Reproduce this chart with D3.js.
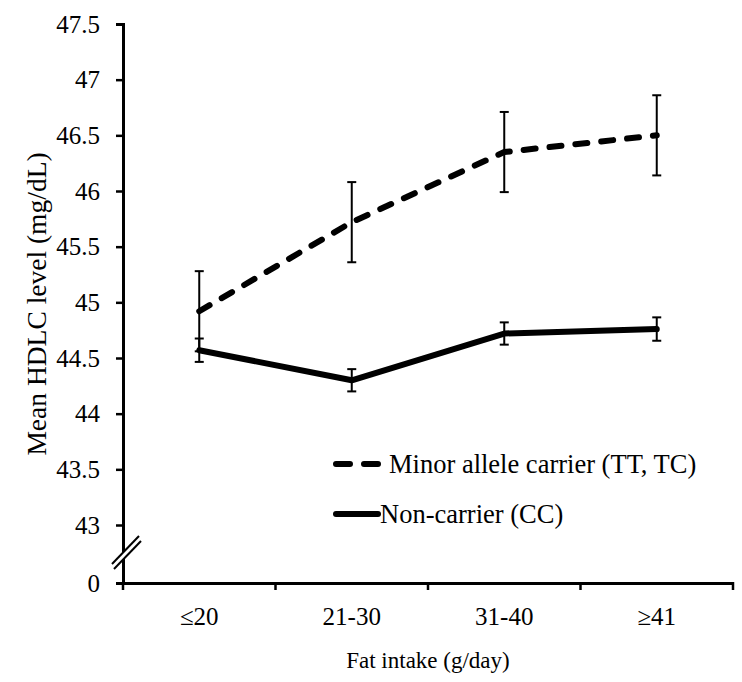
<!DOCTYPE html>
<html>
<head>
<meta charset="utf-8">
<script src="https://cdn.jsdelivr.net/npm/d3@7"></script>
<style>
  html, body { margin: 0; padding: 0; background: #fff; }
  svg text { font-family: "Liberation Serif", "Times New Roman", serif; fill: #000; }
</style>
</head>
<body>
<svg id="chart" width="742" height="682"></svg>
<script>
// fat intake groups and the two genotype series (mean +/- error)
const categories = ['\u226420', '21-30', '31-40', '\u226541'];
const carrierMean = [44.92, 45.72, 46.35, 46.50];
const carrierErr = [0.36, 0.36, 0.36, 0.36];
const nonCarrierMean = [44.57, 44.30, 44.72, 44.76];
const nonCarrierErr = [0.105, 0.10, 0.10, 0.105];
const yTicks = [0, 43, 43.5, 44, 44.5, 45, 45.5, 46, 46.5, 47, 47.5];

const series = [
  { name: 'Minor allele carrier (TT, TC)', mean: carrierMean, err: carrierErr, dash: '12,14' },
  { name: 'Non-carrier (CC)', mean: nonCarrierMean, err: nonCarrierErr, dash: null }
];

const svg = d3.select('#chart');

// broken axis: 0 sits just under 43
const x = d3.scaleBand().domain(categories).range([123, 733]).paddingInner(0).paddingOuter(0);
const y = d3.scaleLinear().domain([0, 43, 47.5]).range([583, 525, 24]);
const cx = (c) => x(c) + x.bandwidth() / 2;

// y axis
const yAxis = svg.append('g')
  .attr('transform', 'translate(123,0)')
  .call(d3.axisLeft(y).tickValues(yTicks).tickFormat(d3.format('~g')).tickSize(7).tickPadding(16));
yAxis.select('.domain').attr('stroke-width', 3);
yAxis.selectAll('.tick line').attr('stroke-width', 2.5);
yAxis.selectAll('.tick text').attr('font-size', 25).attr('font-family', '"Liberation Serif", serif');

// break marks on the y axis
const brk = svg.append('g');
brk.append('polygon')
  .attr('points', '112,563 140,535 142,541 114,569')
  .attr('fill', '#fff');
[[0, 0], [2, 5]].forEach(([dx, dy]) => {
  brk.append('line')
    .attr('x1', 112 + dx).attr('y1', 564 + dy)
    .attr('x2', 139 + dx).attr('y2', 536 + dy)
    .attr('stroke', '#000').attr('stroke-width', 2);
});

// x axis: labels centred on bands, ticks on band edges
const xAxis = svg.append('g')
  .attr('transform', 'translate(0,583)')
  .call(d3.axisBottom(x).tickSize(0).tickPadding(24));
xAxis.select('.domain').attr('stroke-width', 3);
xAxis.selectAll('.tick text').attr('font-size', 25).attr('font-family', '"Liberation Serif", serif');
const edges = categories.map((c) => x(c)).concat([x.range()[1]]);
xAxis.selectAll('line.edge')
  .data(edges)
  .join('line')
  .attr('class', 'edge')
  .attr('x1', (d) => d).attr('x2', (d) => d)
  .attr('y1', -1).attr('y2', 7)
  .attr('stroke', '#000').attr('stroke-width', 2.5);

// axis titles
svg.append('text')
  .attr('x', 428).attr('y', 668)
  .attr('text-anchor', 'middle')
  .attr('font-size', 23)
  .text('Fat intake (g/day)');
svg.append('text')
  .attr('transform', 'translate(46,304) rotate(-90)')
  .attr('text-anchor', 'middle')
  .attr('font-size', 27.5)
  .text('Mean HDLC level (mg/dL)');

// error bars
series.forEach((s) => {
  const g = svg.append('g');
  categories.forEach((c, i) => {
    const x0 = cx(c);
    const top = y(s.mean[i] + s.err[i]);
    const bot = y(s.mean[i] - s.err[i]);
    g.append('line').attr('x1', x0).attr('x2', x0).attr('y1', top).attr('y2', bot)
      .attr('stroke', '#000').attr('stroke-width', 2);
    [top, bot].forEach((yy) => {
      g.append('line').attr('x1', x0 - 4.5).attr('x2', x0 + 4.5).attr('y1', yy).attr('y2', yy)
        .attr('stroke', '#000').attr('stroke-width', 2);
    });
  });
});

// lines
const line = d3.line().x((d) => cx(d.c)).y((d) => y(d.v));
series.forEach((s) => {
  const pts = categories.map((c, i) => ({ c, v: s.mean[i] }));
  svg.append('path')
    .datum(pts)
    .attr('d', line)
    .attr('fill', 'none')
    .attr('stroke', '#000')
    .attr('stroke-width', 6)
    .attr('stroke-linecap', 'round')
    .attr('stroke-linejoin', 'round')
    .attr('stroke-dasharray', s.dash);
});

// legend
const legend = svg.append('g');
series.forEach((s, i) => {
  const ly = 464 + i * 50;
  legend.append('line')
    .attr('x1', 336).attr('x2', 378).attr('y1', ly).attr('y2', ly)
    .attr('stroke', '#000').attr('stroke-width', 6)
    .attr('stroke-linecap', 'round')
    .attr('stroke-dasharray', s.dash ? '14,14' : null);
  legend.append('text')
    .attr('x', i === 0 ? 389 : 380).attr('y', ly)
    .attr('dy', '0.35em')
    .attr('font-size', 26.5)
    .text(s.name);
});
</script>
</body>
</html>
